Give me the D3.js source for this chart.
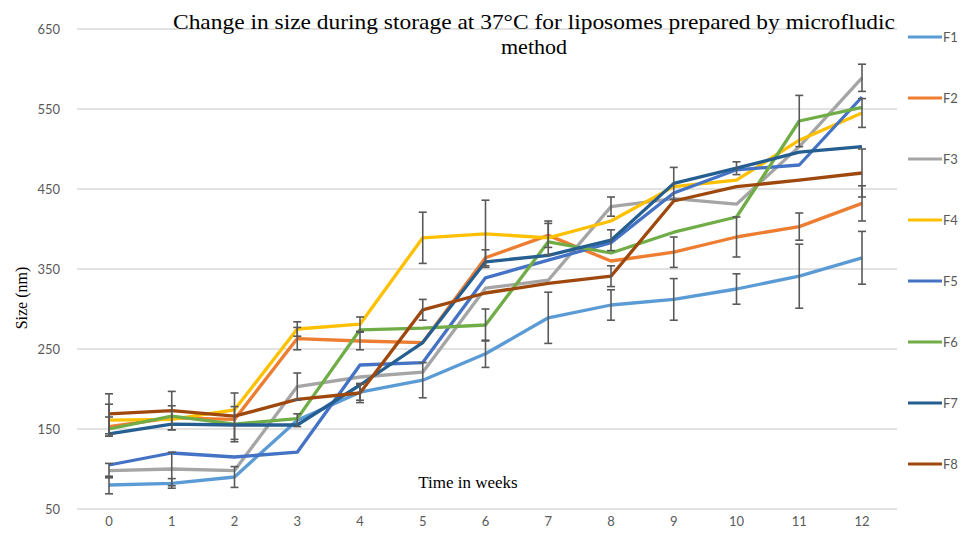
<!DOCTYPE html>
<html><head><meta charset="utf-8">
<script src="https://cdn.jsdelivr.net/npm/d3@7"></script>
<style>body{margin:0;background:#fff}svg{display:block}</style>
</head><body>
<svg id="c" width="973" height="537"></svg>
<script>
const weeks = [0,1,2,3,4,5,6,7,8,9,10,11,12];
const yTicks = [50,150,250,350,450,550,650];
const seriesNames = ["F1","F2","F3","F4","F5","F6","F7","F8"];
const colors = ["#5B9BD5","#ED7D31","#A5A5A5","#FFC000","#4472C4","#70AD47","#255E91","#9E480E"];
const F1 = [80,82,90,161,196,211,244,289,305,312,325,341,364];
const F2 = [153,164,162,263,260,258,364,392,360,371,390,403,432];
const F3 = [98,100,98,203,215,221,326,336,428,438,431,503,589];
const F4 = [161,162,174,275,281,389,394,389,410,453,461,511,545];
const F5 = [105,120,115,121,230,233,339,361,383,445,474,480,565];
const F6 = [150,166,156,163,274,276,280,384,370,396,415,535,552];
const F7 = [144,156,155,155,205,258,359,367,386,457,476,496,503];
const F8 = [169,173,166,187,195,299,320,332,341,435,453,461,470];
const E1 = [11,6,13,8,10,22,17,32,19,26,19,40,33];
const E2 = [12,15,0,14,11,0,10,15,0,19,25,17,22];
const E3 = [9,21,0,17,0,0,0,0,12,0,0,0,17];
const E4 = [20,0,0,9,9,32,42,21,0,0,0,0,18];
const E5 = [0,0,0,0,0,0,0,0,0,0,0,0,0];
const E6 = [0,0,22,0,0,0,20,0,0,0,0,32,0];
const E7 = [0,0,0,0,0,0,0,0,13,20,8,0,0];
const E8 = [25,24,29,0,12,13,0,0,13,0,0,0,30];
const values = [F1,F2,F3,F4,F5,F6,F7,F8];
const errors = [E1,E2,E3,E4,E5,E6,E7,E8];

const svg = d3.select("#c");
const x = d3.scalePoint().domain(weeks).range([109,862]);
const y = d3.scaleLinear().domain([50,650]).range([509,29]);

// gridlines
svg.append("g").selectAll("line").data(yTicks).join("line")
  .attr("x1",77).attr("x2",897).attr("y1",d=>y(d)).attr("y2",d=>y(d))
  .attr("stroke","#D9D9D9").attr("stroke-width",1.3);

// y tick labels
svg.append("g").selectAll("text").data(yTicks).join("text")
  .attr("x",60).attr("y",d=>y(d)).attr("dy","0.35em").attr("text-anchor","end")
  .attr("font-family","Lato, 'Open Sans', sans-serif").attr("font-size",13).attr("fill","#595959")
  .text(d=>d);
// x tick labels
svg.append("g").selectAll("text").data(weeks).join("text")
  .attr("x",d=>x(d)).attr("y",526).attr("text-anchor","middle")
  .attr("font-family","Lato, 'Open Sans', sans-serif").attr("font-size",13).attr("fill","#595959")
  .text(d=>d);

// lines
const line = d3.line().x((d,i)=>x(weeks[i])).y(d=>y(d));
svg.append("g").selectAll("path").data(values).join("path")
  .attr("d",d=>line(d)).attr("fill","none")
  .attr("stroke",(d,i)=>colors[i]).attr("stroke-width",3.3).attr("stroke-linejoin","round");

// error bars
const eb = svg.append("g").attr("stroke","#595959").attr("stroke-width",1.6);
values.forEach((vals,s)=>{
  vals.forEach((v,i)=>{
    const e = errors[s][i];
    if(!e) return;
    const cx = x(weeks[i]);
    eb.append("line").attr("x1",cx).attr("x2",cx).attr("y1",y(v-e)).attr("y2",y(v+e));
    eb.append("line").attr("x1",cx-4).attr("x2",cx+4).attr("y1",y(v-e)).attr("y2",y(v-e));
    eb.append("line").attr("x1",cx-4).attr("x2",cx+4).attr("y1",y(v+e)).attr("y2",y(v+e));
  });
});

// title
svg.append("text").attr("x",173).attr("y",29)
  .attr("font-family","'Liberation Serif', 'Times New Roman', serif").attr("font-size",22).attr("fill","#000")
  .attr("textLength",722).attr("lengthAdjust","spacingAndGlyphs")
  .text("Change in size during storage at 37°C for liposomes prepared by microfludic");
svg.append("text").attr("x",534).attr("y",54).attr("text-anchor","middle")
  .attr("font-family","'Liberation Serif', 'Times New Roman', serif").attr("font-size",22).attr("fill","#000")
  .text("method");
// axis titles
svg.append("text").attr("x",468).attr("y",488).attr("text-anchor","middle")
  .attr("font-family","'Liberation Serif', 'Times New Roman', serif").attr("font-size",17).attr("fill","#000")
  .text("Time in weeks");
svg.append("text").attr("transform","translate(27,298) rotate(-90)").attr("text-anchor","middle")
  .attr("font-family","'Liberation Serif', 'Times New Roman', serif").attr("font-size",16).attr("fill","#000")
  .text("Size (nm)");

// legend
const lg = svg.append("g").selectAll("g").data(seriesNames).join("g")
  .attr("transform",(d,i)=>`translate(0,${37+i*61})`);
lg.append("line").attr("x1",908).attr("x2",942).attr("y1",0).attr("y2",0)
  .attr("stroke",(d,i)=>colors[i]).attr("stroke-width",3);
lg.append("text").attr("x",943).attr("y",0).attr("dy","0.35em")
  .attr("font-family","Lato, 'Open Sans', sans-serif").attr("font-size",13).attr("fill","#595959")
  .text(d=>d);
</script>
</body></html>
